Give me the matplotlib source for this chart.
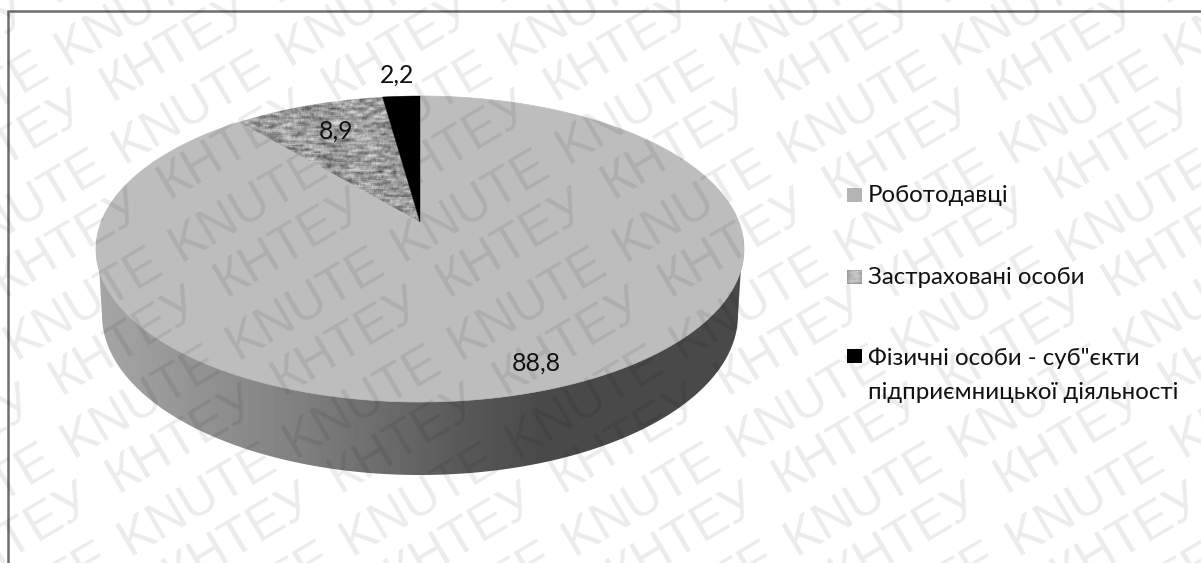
import numpy as np
import matplotlib
matplotlib.use("Agg")
import matplotlib.pyplot as plt
from matplotlib.patches import Polygon, Rectangle

plt.rcParams['font.family'] = ['Lato', 'Noto Sans', 'DejaVu Sans']

labels = ["Роботодавці", "Застраховані особи", "Фізичні особи - суб\"єкти\nпідприємницької діяльності"]
values = [88.8, 8.9, 2.2]
value_labels = ["88,8", "8,9", "2,2"]
value_pos = [(536, 363), (336, 131), (397, 75)]
legend_y = [195, 277, 375]
watermark_words = ["КНТЕУ", "KNUTE"]

W, H = 1201, 563

# perspective of the disc: y of the back, centre and front points, half width
cx, y_back, y_mid, y_front, half_w = 420, 96, 222, 402, 324
c = (y_front + y_back - 2 * y_mid) / (y_front - y_back)
a = y_back * (1 + c) - y_mid
d = half_w * np.sqrt(1 - c * c)


def disc(theta):
    # theta in radians, clockwise from the back point of the disc
    u, v = np.sin(theta), np.cos(theta)
    w = 1 + c * v
    return cx + d * u / w, (a * v + y_mid) / w


def wedge(start, stop):
    t = np.linspace(start, stop, 200)
    x, y = disc(t)
    return np.vstack([np.column_stack([x, y]), [cx, y_mid]])


def noise_texture(nx, ny):
    xx, yy = np.meshgrid(np.arange(nx), np.arange(ny))
    n = np.sin(xx * 12.9898 + yy * 78.233) * 43758.5453
    n = n - np.floor(n)
    # stretch the grain sideways
    kern = np.ones(9) / 9
    n = np.apply_along_axis(lambda r: np.convolve(r, kern, mode='same'), 1, n)
    kern = np.ones(3) / 3
    n = np.apply_along_axis(lambda r: np.convolve(r, kern, mode='same'), 0, n)
    n = (n - n.mean()) / n.std()
    return np.clip(0.60 + 0.11 * n, 0.3, 0.85)


fig = plt.figure(figsize=(W / 100, H / 100), dpi=100)
ax = fig.add_axes([0, 0, 1, 1])
ax.set_axis_off()

# side of the cylinder: front of the lower rim, then back half of the top rim
bx = 420 + 318 * np.cos(np.linspace(np.pi, 0, 200))
by = 315 + 160 * np.sin(np.linspace(np.pi, 0, 200))
tx, ty = disc(np.linspace(np.pi * 0.6, -np.pi * 0.6, 200))
side = Polygon(np.vstack([np.column_stack([bx, by]), np.column_stack([tx, ty])]),
               closed=True, fc='none', ec='none')
ax.add_patch(side)
grad_x = np.arange(90, 760)
grad = np.interp(grad_x, [97, 300, 470, 540, 745], [0.65, 0.50, 0.34, 0.29, 0.29])
im = ax.imshow(grad[None, :], cmap='gray', vmin=0, vmax=1, aspect='auto',
               extent=(90, 760, 490, 240), zorder=1)
im.set_clip_path(side)

# top face, one wedge per value, clockwise from the vertical
total = sum(values)
angles = np.cumsum([0] + values) / total * 2 * np.pi
ax.add_patch(Polygon(wedge(angles[0], angles[1]), closed=True, fc='#bdbdbd', ec='#bdbdbd', lw=0.5, zorder=2))
tex_patch = Polygon(wedge(angles[1], angles[2]), closed=True, fc='none', ec='none', zorder=3)
ax.add_patch(tex_patch)
im2 = ax.imshow(noise_texture(200, 150), cmap='gray', vmin=0, vmax=1, aspect='auto',
                extent=(225, 425, 225, 90), zorder=3)
im2.set_clip_path(tex_patch)
ax.add_patch(Polygon(wedge(angles[2], angles[3]), closed=True, fc='black', ec='black', lw=0.3, zorder=4))

for s, (x, y) in zip(value_labels, value_pos):
    ax.text(x, y, s, ha='center', va='center', fontsize=17.8, color='#111111', zorder=6)

# legend
ax.add_patch(Rectangle((847, 188), 15, 14, fc='#b4b4b4', ec='none', zorder=5))
ax.imshow(noise_texture(15, 14) * 0.5 + 0.4, cmap='gray', vmin=0, vmax=1, aspect='auto',
          extent=(847, 862, 284, 270), zorder=5)
ax.add_patch(Rectangle((847, 349), 15, 14, fc='black', ec='none', zorder=5))
for s, y in zip(labels, legend_y):
    ax.text(868, y, s, ha='left', va='center', fontsize=17.3, color='#111111',
            linespacing=1.75, zorder=6)

# frame: left and top only
ax.plot([8, 8, W], [H, 11, 11], color='#6e6e6e', lw=1.8, zorder=5, solid_joinstyle='miter')

# watermark lattice over everything
h_step = (222, 0)
row_step = (165, -98)
ang = np.degrees(np.arctan2(98, 165))
origins = {"KNUTE": (863, 500), "КНТЕУ": (905, 537)}
for word in watermark_words:
    ox, oy = origins[word]
    for b in range(-2, 8):
        for n in range(-12, 8):
            px = ox + n * h_step[0] + b * row_step[0]
            py = oy + b * row_step[1]
            if px < -110 or px > W + 110 or py < -70 or py > H + 70:
                continue
            ax.text(px, py, word, fontsize=37, family='Liberation Sans', color='black',
                    alpha=0.08, rotation=ang, rotation_mode='anchor',
                    ha='center', va='center', zorder=10, clip_on=True)

ax.set_xlim(0, W)
ax.set_ylim(H, 0)
fig.savefig('out.png', dpi=100)
